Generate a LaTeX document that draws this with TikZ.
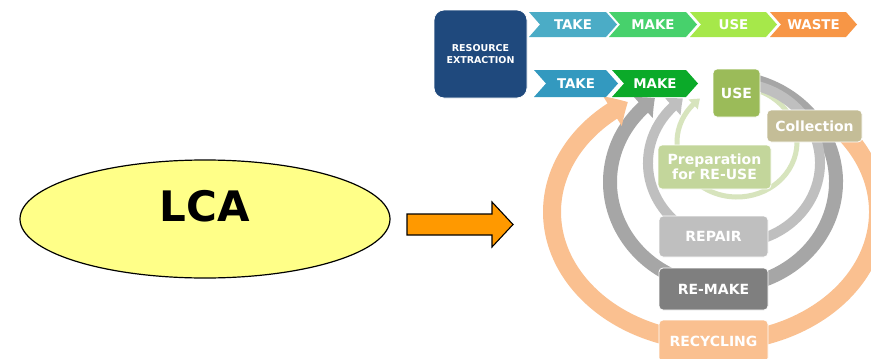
\documentclass[tikz,border=0pt]{standalone}
\usepackage{fontspec}
\setmainfont{DejaVu Sans}
\usetikzlibrary{arrows.meta,bending,calc,shapes.geometric}
\definecolor{resblue}{HTML}{1F497D}
\definecolor{takeA}{HTML}{4BACC6}
\definecolor{makeA}{HTML}{47D16C}
\definecolor{useA}{HTML}{A6E84A}
\definecolor{wasteA}{HTML}{F79646}
\definecolor{takeB}{HTML}{3399BF}
\definecolor{makeB}{HTML}{0BAA29}
\definecolor{useBox}{HTML}{9BBB59}
\definecolor{collBox}{HTML}{C4BD97}
\definecolor{prepBox}{HTML}{C3D69B}
\definecolor{repBox}{HTML}{BFBFBF}
\definecolor{remBox}{HTML}{7F7F7F}
\definecolor{recBox}{HTML}{FAC090}
\definecolor{ringGreen}{HTML}{D7E4BD}
\definecolor{ringLight}{HTML}{BFBFBF}
\definecolor{ringDark}{HTML}{A6A6A6}
\definecolor{ringOrange}{HTML}{FAC090}
\definecolor{lcaYellow}{HTML}{FFFF88}
\definecolor{arrOrange}{HTML}{FF9900}
\newcommand\chev[8]{%
  \fill[#7] (#2,-#4) -- ({#3-#6},-#4) -- (#3,{-(#4+#5)/2}) -- ({#3-#6},-#5) -- (#2,-#5) -- ({#2+#6},{-(#4+#5)/2}) -- cycle;
  \node[chevtext] (#1) at ({(#2+#3)/2},{-(#4+#5)/2}) {#8};}
\begin{document}
\begin{tikzpicture}[x=1pt,y=1pt,
  box/.style={draw=white, line width=0.8pt, rounded corners=4pt, inner sep=0pt, text=white, align=center, font=\bfseries\fontsize{14}{15}\selectfont},
  chevtext/.style={inner sep=0pt, text=white, font=\bfseries\fontsize{13.4}{15}\selectfont},
  ring/.style={line cap=butt}]
\clip (0,0) rectangle (871,-359);
\fill[white] (0,0) rectangle (871,-359);
% LCA ellipse
\node[ellipse, draw=black, line width=1.2pt, fill=lcaYellow, minimum width=370pt, minimum height=118pt, inner sep=0pt] (lca) at (205,-219) {};
\node[font=\bfseries\fontsize{42}{44}\selectfont, inner sep=0pt] (lcatext) at (205,-206.5) {LCA};
% block arrow
\draw[fill=arrOrange, line width=1.1pt, line join=miter] (407,-214) -- (492,-214) -- (492,-202) -- (513,-224.5) -- (492,-247) -- (492,-235) -- (407,-235) -- cycle;
% rings
\coordinate (gC) at (737,-142);
\coordinate (lC) at (734,-163);
\coordinate (dC) at (723,-182);
\coordinate (oC) at (715,-212);
\draw[ring, ringGreen, line width=5pt, -{Triangle[width=13pt,length=9pt,bend]}] ([shift={(66:60 and 55)}]gC) arc[start angle=66, end angle=-232, x radius=60, y radius=55];
\draw[ring, ringDark, line width=14pt, -{Triangle[width=27pt,length=15pt,bend]}] ([shift={(74:113 and 105)}]dC) arc[start angle=74, end angle=-233, x radius=113, y radius=105];
\draw[ring, ringLight, line width=10pt, -{Triangle[width=22pt,length=13pt,bend]}] ([shift={(76:86 and 80)}]lC) arc[start angle=76, end angle=-233.6, x radius=86, y radius=80];
\draw[ring, ringOrange, line width=18pt, -{Triangle[width=34pt,length=18pt,bend]}] ([shift={(36:163 and 130)}]oC) arc[start angle=36, end angle=-237.7, x radius=163, y radius=130];
% resource extraction
\node[box, fill=resblue, rounded corners=10pt, minimum width=93pt, minimum height=88pt, font=\bfseries\fontsize{9.5}{12}\selectfont] (res) at (480.5,-54) {RESOURCE\\EXTRACTION};
% chevrons row 1
\chev{takeA}{529}{617}{12}{37}{11}{takeA}{TAKE}
\chev{makeA}{609}{697}{12}{37}{11}{makeA}{MAKE}
\chev{useA}{690}{777}{12}{37}{11}{useA}{USE}
\chev{wasteA}{770}{857}{12}{37}{11}{wasteA}{WASTE}
% chevrons row 2
\chev{takeB}{534}{618}{70}{97}{12}{takeB}{TAKE}
\chev{makeB}{612}{698}{70}{97}{12}{makeB}{MAKE}
% boxes
\node[box, fill=useBox, minimum width=47pt, minimum height=48pt] (use) at (736.5,-93) {USE};
\node[box, fill=collBox, minimum width=95pt, minimum height=32pt] (coll) at (814.5,-126) {Collection};
\node[box, fill=prepBox, minimum width=113pt, minimum height=44pt] (prep) at (714.5,-167) {Preparation\\for RE-USE};
\node[box, fill=repBox, minimum width=109pt, minimum height=41pt] (rep) at (713.5,-236.5) {REPAIR};
\node[box, fill=remBox, minimum width=109pt, minimum height=42pt] (rem) at (713.5,-289) {RE-MAKE};
\node[box, fill=recBox, minimum width=109pt, minimum height=42pt] (rec) at (713.5,-341) {RECYCLING};
\end{tikzpicture}
\end{document}
